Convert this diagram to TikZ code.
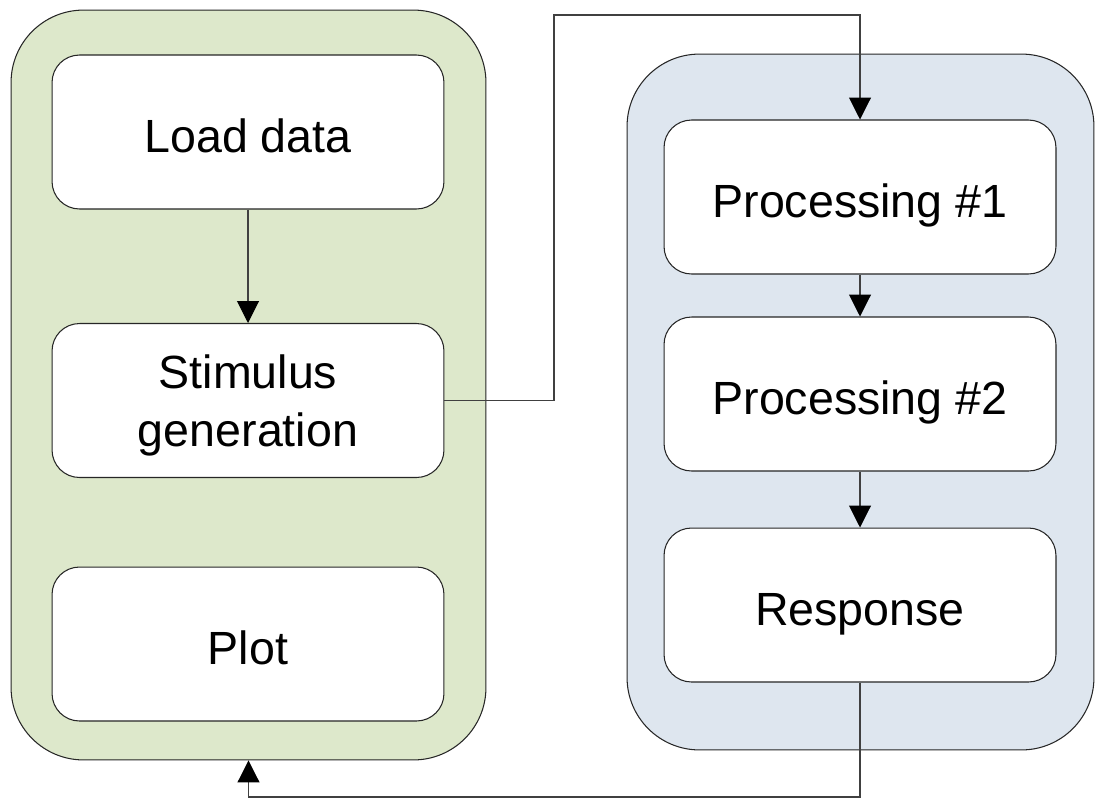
\documentclass[tikz,border=0pt]{standalone}
\usepackage{fontspec}
\setmainfont{Liberation Sans}
\usetikzlibrary{arrows.meta}
\definecolor{groupgreen}{HTML}{DDE8CB}
\definecolor{groupblue}{HTML}{DEE6EF}
\tikzset{
  group/.style={draw=black!85, line width=0.6pt, rounded corners=1.45cm, inner sep=0pt},
  stepbox/.style={draw=black!85, line width=0.6pt, fill=white, rounded corners=0.55cm,
    minimum width=7.84cm, minimum height=3.08cm, align=center,
    text height=22.8pt, text depth=0pt,
    font=\fontsize{26.5}{33}\selectfont},
  link/.style={draw=black!75, line width=0.6pt, -{Triangle[length=0.44cm, width=0.44cm, color=black]}}
}
\begin{document}
\begin{tikzpicture}[x=0.02cm, y=-0.02cm]
\useasboundingbox (0,0) rectangle (1095,799);
\node[group, fill=groupgreen, minimum width=9.5cm, minimum height=15cm] (left) at (248.5,385) {};
\node[group, fill=groupblue, minimum width=9.34cm, minimum height=13.92cm] (right) at (860.5,402) {};
\node[stepbox] (load) at (248,132) {Load data};
\node[stepbox, text height=] (stim) at (248,400.5) {Stimulus\\generation};
\node[stepbox] (plot) at (248,644) {Plot};
\node[stepbox] (proc1) at (860,197) {Processing \#1};
\node[stepbox] (proc2) at (860,394) {Processing \#2};
\node[stepbox] (resp) at (860,605) {Response};
\coordinate (up) at (554,15);
\coordinate (down) at (860,797);
\draw[link] (load) -- (stim);
\draw[link] (proc1) -- (proc2);
\draw[link] (proc2) -- (resp);
\draw[link] (stim.east) -| (up) -| (proc1.north);
\draw[link] (resp.south) -- (down) -| (left.south);
\end{tikzpicture}
\end{document}
